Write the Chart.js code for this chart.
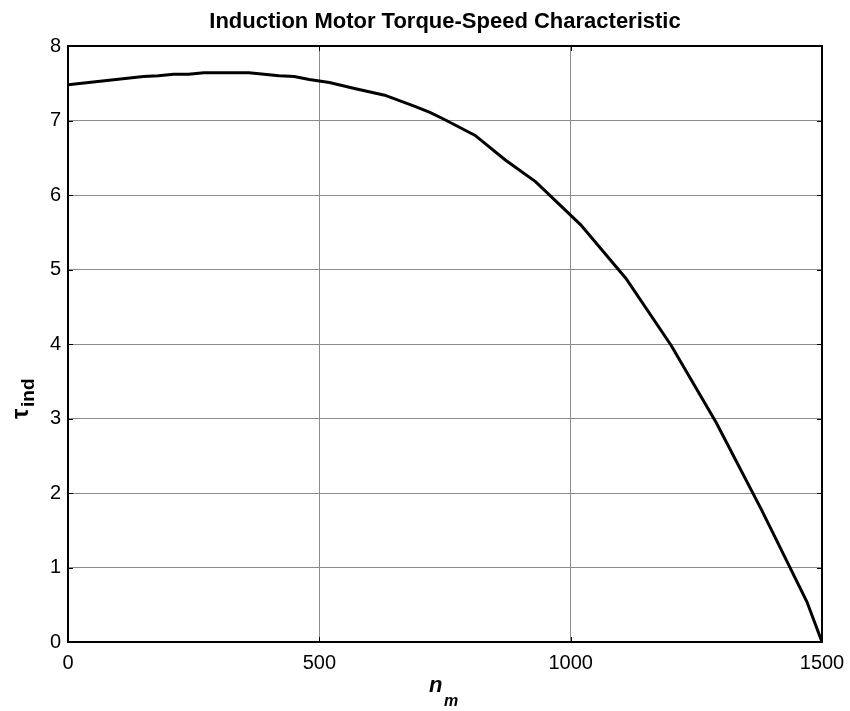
<!DOCTYPE html>
<html>
<head>
<meta charset="utf-8">
<title>Induction Motor Torque-Speed Characteristic</title>
<script src="https://cdn.jsdelivr.net/npm/chart.js@4.4.1/dist/chart.umd.min.js"></script>
<style>
    html, body { margin: 0; padding: 0; background: #fff; }
    #wrap { width: 850px; height: 711px; }
</style>
</head>
<body>
<div id="wrap"><canvas id="torqueChart" width="850" height="711"></canvas></div>
<script>
// speed n_m (r/min) and induced torque
const speed = [0, 150, 180, 210, 240, 270, 360, 420, 450, 480, 500, 520, 570, 630, 690, 720, 750,
    810, 870, 930, 1020, 1110, 1200, 1290, 1380, 1470, 1500];
const torque = [7.48, 7.59, 7.60, 7.62, 7.62, 7.64, 7.64, 7.60, 7.59, 7.55, 7.53, 7.51, 7.43, 7.34, 7.19, 7.11, 7.01,
    6.80, 6.47, 6.18, 5.60, 4.88, 3.98, 2.94, 1.77, 0.54, 0];
const xTicks = [0, 500, 1000, 1500];
const yTicks = [0, 1, 2, 3, 4, 5, 6, 7, 8];

const chartTitle = 'Induction Motor Torque-Speed Characteristic';
const FONT = '"Liberation Sans", Arial, Helvetica, sans-serif';

document.addEventListener('DOMContentLoaded', function () {

    // matlab-ish box, inward ticks, title and axis labels with subscripts
    const matlabAxes = {
        id: 'matlabAxes',
        afterDraw(chart) {
            const ctx = chart.ctx;
            const a = chart.chartArea;
            const xs = chart.scales.x;
            const ys = chart.scales.y;
            ctx.save();

            ctx.strokeStyle = '#000';
            ctx.lineWidth = 1;
            ctx.beginPath();
            xTicks.forEach(v => {
                const px = Math.round(xs.getPixelForValue(v)) + 0.5;
                ctx.moveTo(px, a.bottom); ctx.lineTo(px, a.bottom - 5);
                ctx.moveTo(px, a.top); ctx.lineTo(px, a.top + 5);
            });
            yTicks.forEach(v => {
                const py = Math.round(ys.getPixelForValue(v)) + 0.5;
                ctx.moveTo(a.left, py); ctx.lineTo(a.left + 5, py);
                ctx.moveTo(a.right, py); ctx.lineTo(a.right - 5, py);
            });
            ctx.stroke();

            ctx.lineWidth = 2;
            ctx.strokeRect(a.left, a.top, a.right - a.left, a.bottom - a.top);

            ctx.fillStyle = '#000';
            ctx.textAlign = 'center';
            ctx.textBaseline = 'alphabetic';
            ctx.font = 'bold 22px ' + FONT;
            ctx.fillText(chartTitle, (a.left + a.right) / 2, 28);

            // x label n_m
            ctx.textAlign = 'left';
            ctx.font = 'bold italic 22px ' + FONT;
            ctx.fillText('n', 429, 692);
            ctx.font = 'bold italic 16px ' + FONT;
            ctx.fillText('m', 444, 706);

            // y label tau_ind, rotated
            ctx.translate(28, 419);
            ctx.rotate(-Math.PI / 2);
            ctx.font = 'bold 23px ' + FONT;
            ctx.fillText('τ', 0, 0);
            ctx.font = 'bold 19px ' + FONT;
            ctx.fillText('ind', 12, 6);

            ctx.restore();
        }
    };

    const ctx = document.getElementById('torqueChart').getContext('2d');
    new Chart(ctx, {
        type: 'line',
        data: {
            datasets: [{
                label: 'tau_ind',
                data: speed.map((n, i) => ({ x: n, y: torque[i] })),
                borderColor: '#000',
                borderWidth: 3,
                pointRadius: 0,
                tension: 0,
                fill: false
            }]
        },
        options: {
            responsive: false,
            animation: false,
            layout: {
                padding: { left: 0, top: 46, right: 28, bottom: 0 }
            },
            scales: {
                x: {
                    type: 'linear',
                    min: 0,
                    max: 1500,
                    afterFit: function (scale) {
                        scale.height = 69;
                        scale.paddingLeft = 0;
                        scale.paddingRight = 0;
                    },
                    afterBuildTicks: function (scale) { scale.ticks = xTicks.map(v => ({ value: v })); },
                    grid: { color: '#8c8c8c', lineWidth: 1, drawTicks: false },
                    border: { display: false },
                    ticks: {
                        color: '#000',
                        padding: 9,
                        maxRotation: 0,
                        font: { family: FONT, size: 20 },
                        callback: function (value) { return String(value); }
                    }
                },
                y: {
                    min: 0,
                    max: 8,
                    afterFit: function (scale) {
                        scale.width = 68;
                        scale.paddingTop = 0;
                        scale.paddingBottom = 0;
                    },
                    afterBuildTicks: function (scale) { scale.ticks = yTicks.map(v => ({ value: v })); },
                    grid: { color: '#8c8c8c', lineWidth: 1, drawTicks: false },
                    border: { display: false },
                    ticks: {
                        color: '#000',
                        padding: 7,
                        font: { family: FONT, size: 20 },
                        callback: function (value) { return String(value); }
                    }
                }
            },
            plugins: {
                legend: { display: false },
                title: { display: false },
                tooltip: { enabled: false }
            }
        },
        plugins: [matlabAxes]
    });
});
</script>
</body>
</html>
